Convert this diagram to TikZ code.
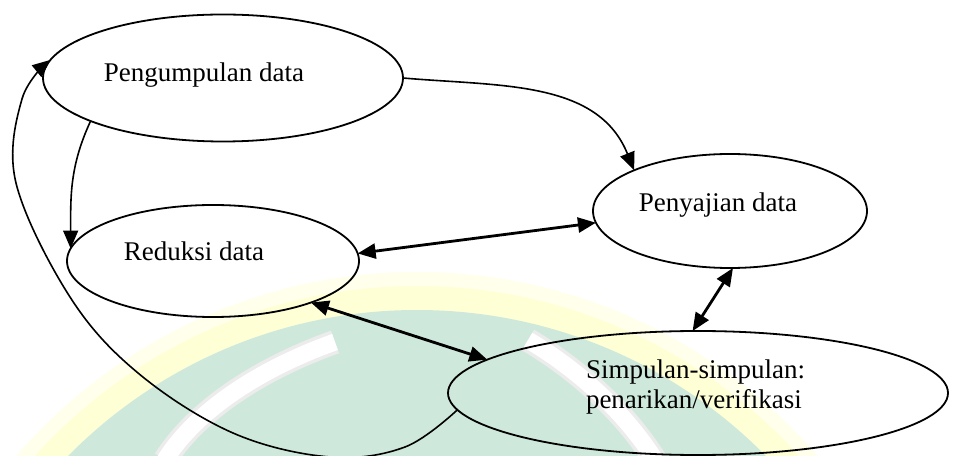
\documentclass[tikz,border=0pt]{standalone}
\usepackage{fontspec}
\setmainfont{Liberation Serif}
\usetikzlibrary{shapes.geometric}
\usetikzlibrary{arrows.meta}

\begin{document}
\begin{tikzpicture}[x=1pt,y=1pt,
  bubble/.style={draw=drawColor,ellipse,line width=1.8pt,inner sep=0pt,outer sep=0pt},
  txt/.style={text=drawColor,inner sep=0pt,outer sep=0pt,font=\fontsize{27}{30}\selectfont},
  flow/.style={draw=drawColor,line width=1.6pt,-{Triangle[length=18pt,width=15pt]}},
  link/.style={draw=drawColor,line width=2.8pt,{Triangle[length=18pt,width=15pt]}-{Triangle[length=18pt,width=15pt]}}]
\definecolor{drawColor}{RGB}{0,0,0}
\definecolor{wmYellow}{RGB}{255,255,214}
\definecolor{wmGreen}{RGB}{206,233,219}
\path[use as bounding box,fill=white] (0,0) rectangle (955,455);

% watermark
\begin{scope}
\path[clip] (0,0) rectangle (955,455);
\fill[wmYellow!50] (417,-345) circle (528);
\fill[wmYellow] (417,-345) circle (514);
\fill[wmGreen] (417,-345) circle (490);
\draw[gray!15,line width=24pt] (335,113) .. controls (270,90) and (200,50) .. (165,-5);
\draw[white,line width=17pt] (335,113) .. controls (270,90) and (200,50) .. (165,-5);
\draw[gray!15,line width=24pt] (528,115) .. controls (570,90) and (620,50) .. (655,-5);
\draw[white,line width=17pt] (528,115) .. controls (570,90) and (620,50) .. (655,-5);
\end{scope}

% ellipses
\node[bubble,minimum width=360pt,minimum height=127pt] (pengumpulan) at (223,377) {};
\node[bubble,minimum width=274pt,minimum height=114pt] (penyajian) at (730,244) {};
\node[bubble,minimum width=292pt,minimum height=112pt] (reduksi) at (213,194) {};
\node[bubble,minimum width=500pt,minimum height=124pt] (simpulan) at (698,62) {};

\node[txt,anchor=base] (tPengumpulan) at (204,373) {Pengumpulan data};
\node[txt,anchor=base] (tPenyajian) at (718,243) {Penyajian data};
\node[txt,anchor=base] (tReduksi) at (194,194) {Reduksi data};
\node[txt,anchor=base west] (tSimpulanA) at (586,76) {Simpulan-simpulan:};
\node[txt,anchor=base west] (tSimpulanB) at (586,47) {penarikan/verifikasi};

% arrows
\path[flow] (pengumpulan.0) to[out=-5,in=112] (penyajian.157.7);
\path[flow] (pengumpulan.198.4) to[out=245,in=90] (reduksi.175.7);
\path[link] (reduksi.3) -- (penyajian.185.4);
\path[link] (reduksi.337.4) -- (simpulan.171.7);
\path[link] (penyajian.273) -- (simpulan.95.5);
\path[flow] plot[smooth,tension=0.6] coordinates {(simpulan.184.7) (405,8) (330,-2) (233,22) (138,82) (70,158) (16,272) (22,356) (pengumpulan.174)};
\end{tikzpicture}
\end{document}
